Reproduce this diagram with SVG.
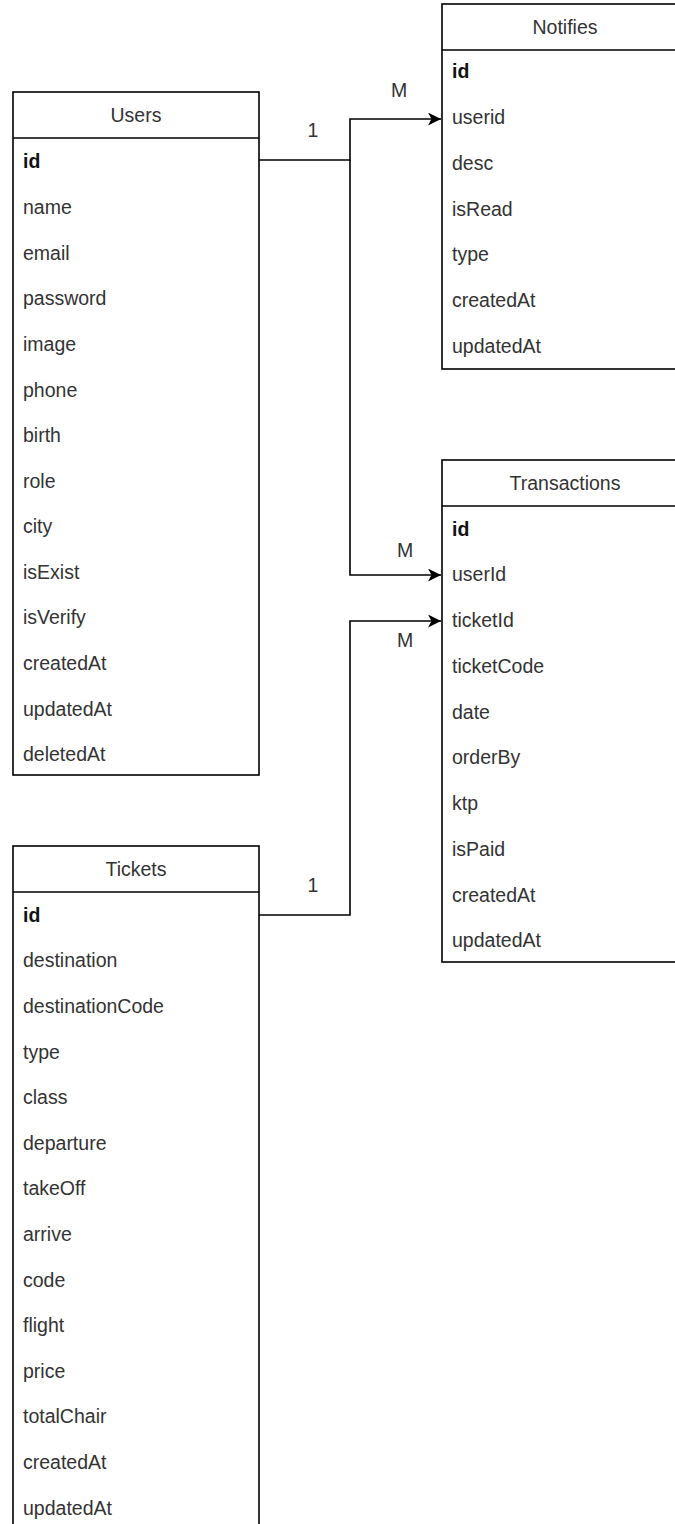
<svg xmlns="http://www.w3.org/2000/svg" width="675" height="1524" viewBox="0 0 675 1524">
<style>
.box{fill:#fff;stroke:#000;stroke-width:1.6}
.t{font-family:"Liberation Sans",Arial,sans-serif;font-size:19.5px;fill:#333}
.h{text-anchor:middle}
.b{font-weight:bold;fill:#111}
.c{fill:none;stroke:#000;stroke-width:1.6}
</style>
<defs>
<marker id="arr" markerWidth="14" markerHeight="14" refX="13" refY="6.5" orient="auto" markerUnits="userSpaceOnUse">
<path d="M0,0 L13,6.5 L0,13 L3.5,6.5 z" fill="#000"/>
</marker>
</defs>
<rect width="675" height="1524" fill="#fff"/>

<g id="users">
<rect class="box" x="13" y="92" width="246" height="683"/>
<line class="c" x1="13" y1="138" x2="259" y2="138"/>
<text class="t h" x="136" y="122">Users</text>
<text class="t b" x="23" y="168">id</text>
<text class="t" x="23" y="214">name</text>
<text class="t" x="23" y="260">email</text>
<text class="t" x="23" y="305">password</text>
<text class="t" x="23" y="351">image</text>
<text class="t" x="23" y="397">phone</text>
<text class="t" x="23" y="442">birth</text>
<text class="t" x="23" y="488">role</text>
<text class="t" x="23" y="533">city</text>
<text class="t" x="23" y="579">isExist</text>
<text class="t" x="23" y="624">isVerify</text>
<text class="t" x="23" y="670">createdAt</text>
<text class="t" x="23" y="716">updatedAt</text>
<text class="t" x="23" y="761">deletedAt</text>
</g>

<g id="notifies">
<rect class="box" x="442" y="4" width="246" height="365"/>
<line class="c" x1="442" y1="50" x2="688" y2="50"/>
<text class="t h" x="565" y="34">Notifies</text>
<text class="t b" x="452" y="78">id</text>
<text class="t" x="452" y="124">userid</text>
<text class="t" x="452" y="170">desc</text>
<text class="t" x="452" y="216">isRead</text>
<text class="t" x="452" y="261">type</text>
<text class="t" x="452" y="307">createdAt</text>
<text class="t" x="452" y="353">updatedAt</text>
</g>

<g id="transactions">
<rect class="box" x="442" y="460" width="246" height="502"/>
<line class="c" x1="442" y1="506" x2="688" y2="506"/>
<text class="t h" x="565" y="490">Transactions</text>
<text class="t b" x="452" y="536">id</text>
<text class="t" x="452" y="581">userId</text>
<text class="t" x="452" y="627">ticketId</text>
<text class="t" x="452" y="673">ticketCode</text>
<text class="t" x="452" y="719">date</text>
<text class="t" x="452" y="764">orderBy</text>
<text class="t" x="452" y="810">ktp</text>
<text class="t" x="452" y="856">isPaid</text>
<text class="t" x="452" y="902">createdAt</text>
<text class="t" x="452" y="947">updatedAt</text>
</g>

<g id="tickets">
<rect class="box" x="13" y="846" width="246" height="700"/>
<line class="c" x1="13" y1="892" x2="259" y2="892"/>
<text class="t h" x="136" y="876">Tickets</text>
<text class="t b" x="23" y="922">id</text>
<text class="t" x="23" y="967">destination</text>
<text class="t" x="23" y="1013">destinationCode</text>
<text class="t" x="23" y="1059">type</text>
<text class="t" x="23" y="1104">class</text>
<text class="t" x="23" y="1150">departure</text>
<text class="t" x="23" y="1195">takeOff</text>
<text class="t" x="23" y="1241">arrive</text>
<text class="t" x="23" y="1287">code</text>
<text class="t" x="23" y="1332">flight</text>
<text class="t" x="23" y="1378">price</text>
<text class="t" x="23" y="1423">totalChair</text>
<text class="t" x="23" y="1469">createdAt</text>
<text class="t" x="23" y="1515">updatedAt</text>
</g>

<g id="connectors">
<polyline class="c" points="259,160 350,160 350,119 441,119" marker-end="url(#arr)"/>
<polyline class="c" points="350,160 350,575 441,575" marker-end="url(#arr)"/>
<polyline class="c" points="259,915 350,915 350,621 441,621" marker-end="url(#arr)"/>
<text class="t h" x="313" y="137">1</text>
<text class="t h" x="399" y="97">M</text>
<text class="t h" x="405" y="557">M</text>
<text class="t h" x="405" y="647">M</text>
<text class="t h" x="313" y="892">1</text>
</g>
</svg>
